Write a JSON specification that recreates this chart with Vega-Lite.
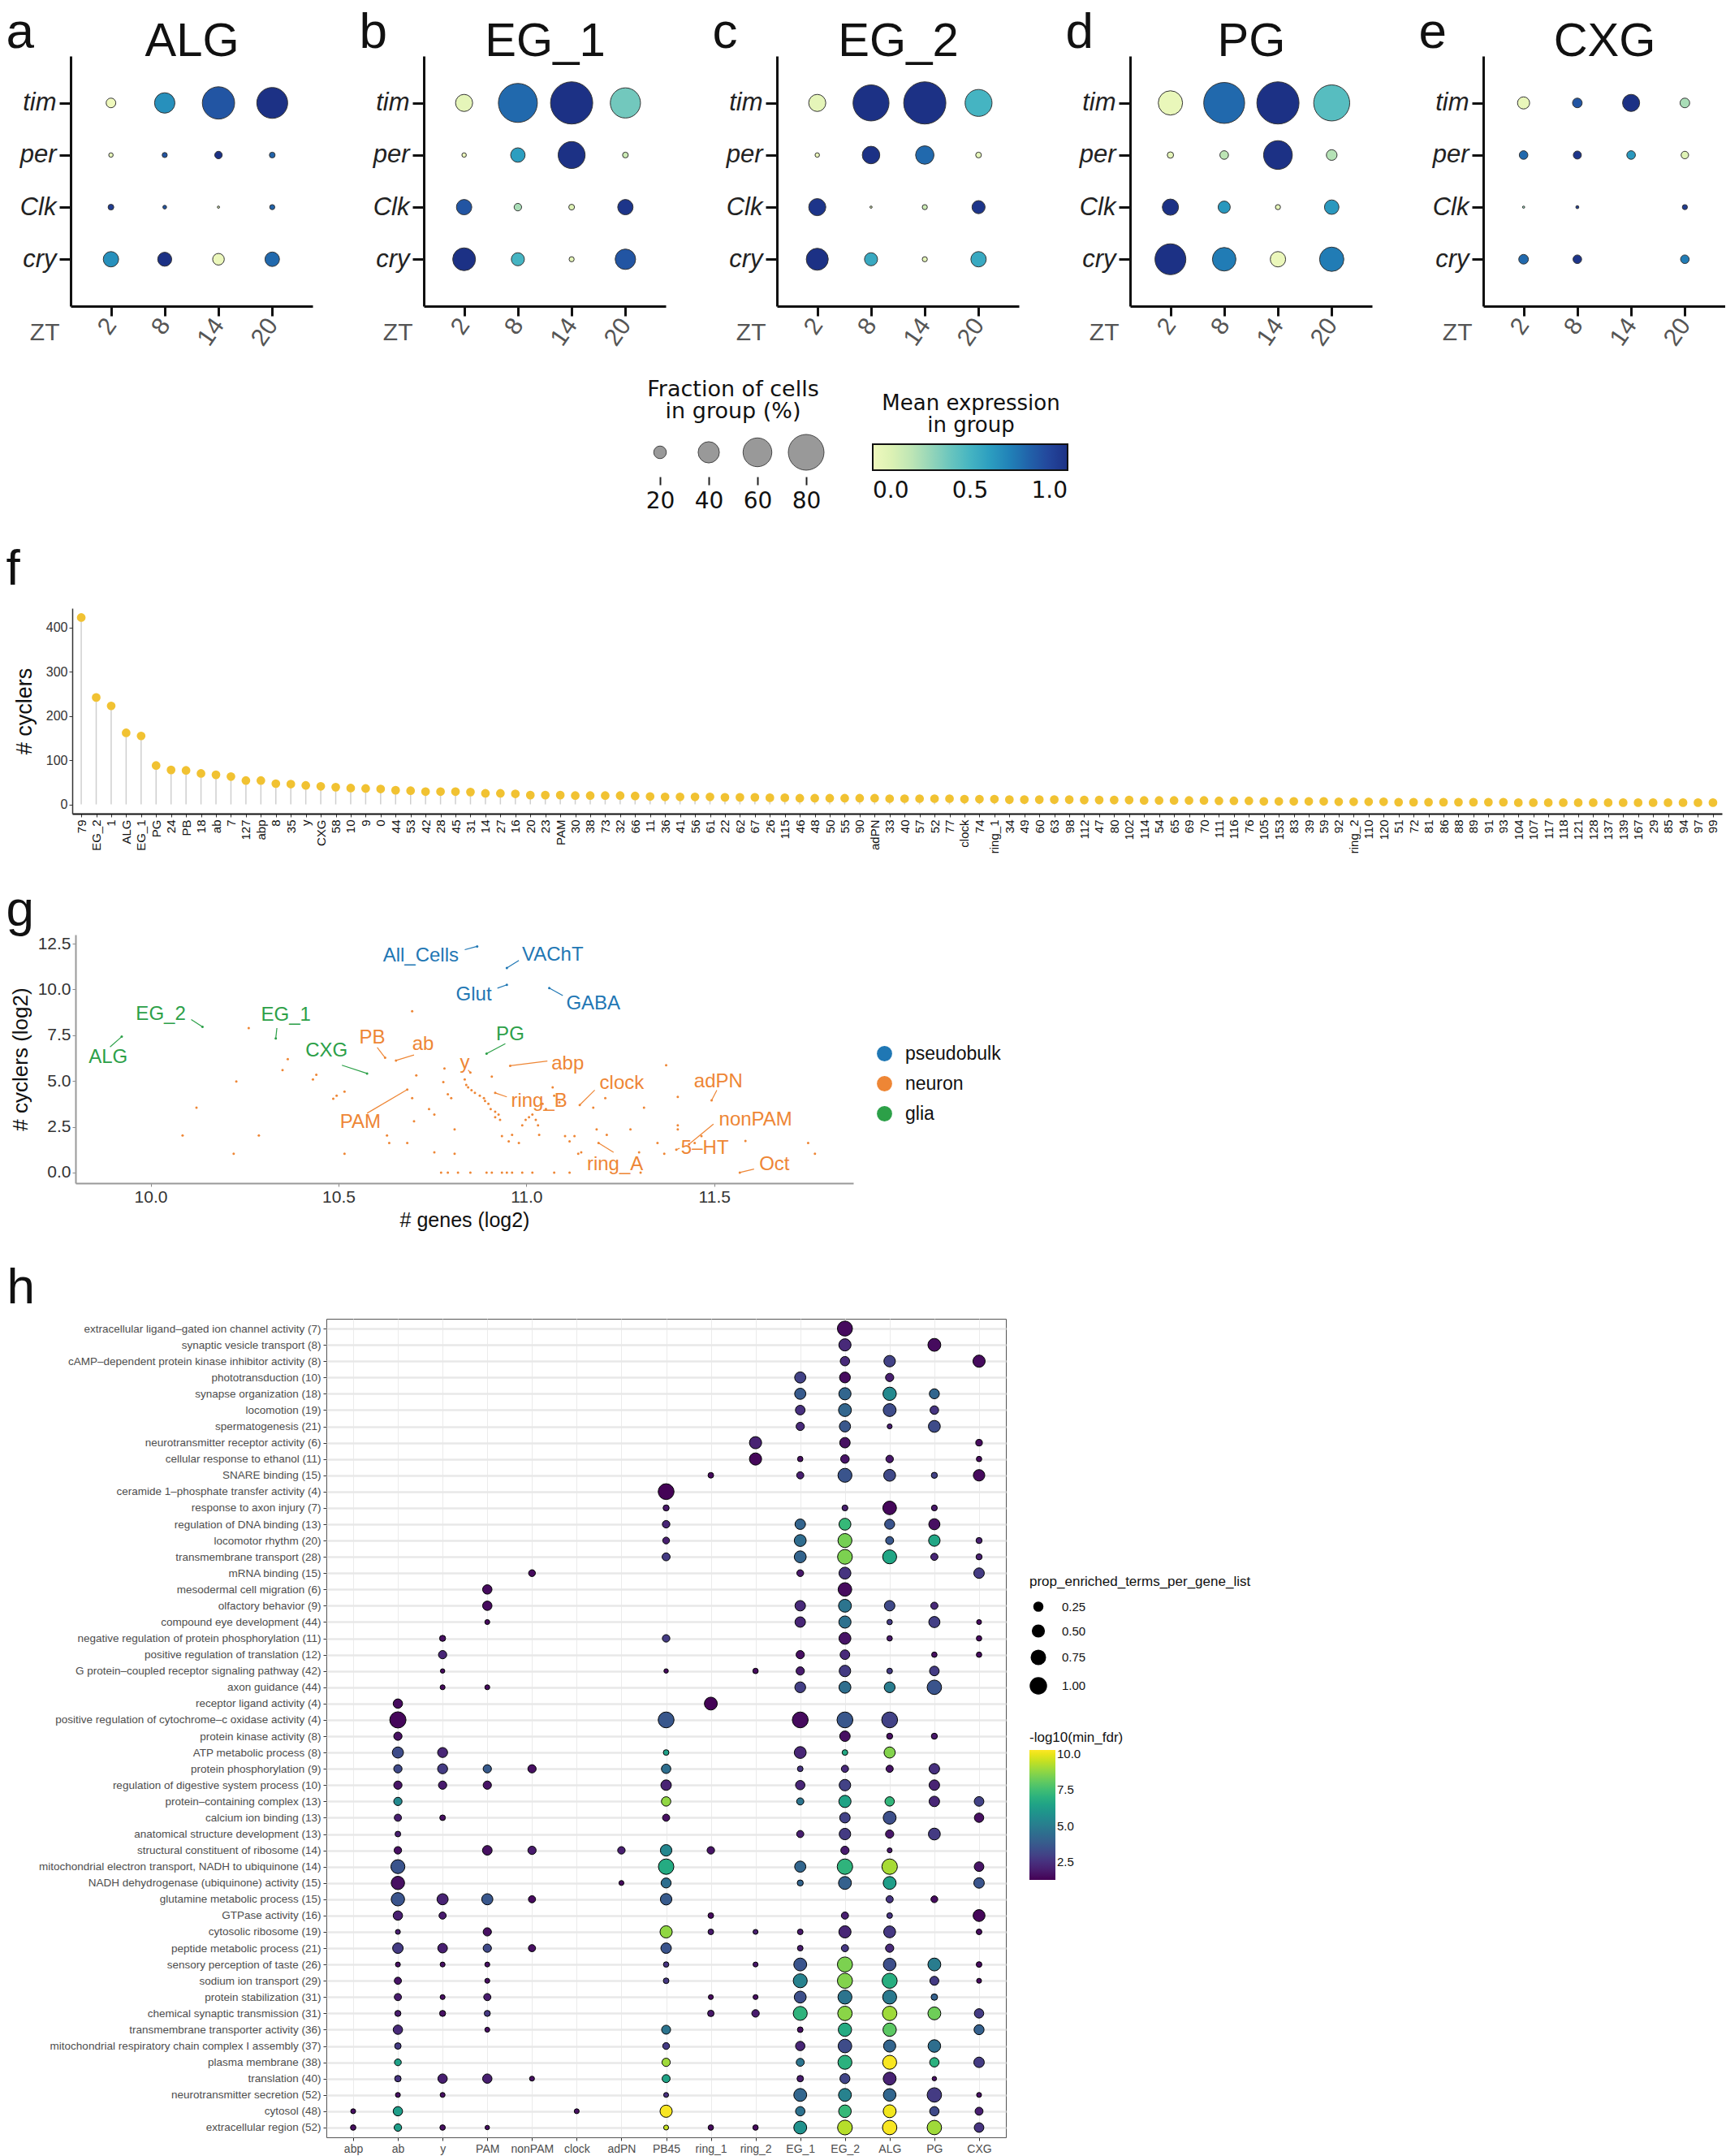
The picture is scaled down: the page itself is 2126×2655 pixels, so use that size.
{
"$schema": "https://vega.github.io/schema/vega-lite/v6.json",
"background": "white",
"padding": {"left": 0, "top": 8, "right": 0, "bottom": 0},
"config": {"view": {"stroke": null}, "font": "Liberation Sans", "title": {"fontWeight": "normal", "color": "#111"}, "axis": {"grid": false}},
"datasets": {
"dots": [
{"ct":"ALG","g":"tim","z":2,"f":14,"e":0.0},{"ct":"ALG","g":"tim","z":8,"f":38,"e":0.65},{"ct":"ALG","g":"tim","z":14,"f":70,"e":0.85},{"ct":"ALG","g":"tim","z":20,"f":66,"e":1.0},
{"ct":"ALG","g":"per","z":2,"f":5,"e":0.05},{"ct":"ALG","g":"per","z":8,"f":6,"e":0.85},{"ct":"ALG","g":"per","z":14,"f":10,"e":1.0},{"ct":"ALG","g":"per","z":20,"f":7,"e":0.8},
{"ct":"ALG","g":"Clk","z":2,"f":7,"e":0.95},{"ct":"ALG","g":"Clk","z":8,"f":4,"e":0.85},{"ct":"ALG","g":"Clk","z":14,"f":2,"e":0.1},{"ct":"ALG","g":"Clk","z":20,"f":6,"e":0.8},
{"ct":"ALG","g":"cry","z":2,"f":26,"e":0.65},{"ct":"ALG","g":"cry","z":8,"f":23,"e":1.0},{"ct":"ALG","g":"cry","z":14,"f":18,"e":0.02},{"ct":"ALG","g":"cry","z":20,"f":24,"e":0.78},
{"ct":"EG_1","g":"tim","z":2,"f":30,"e":0.05},{"ct":"EG_1","g":"tim","z":8,"f":90,"e":0.78},{"ct":"EG_1","g":"tim","z":14,"f":100,"e":1.0},{"ct":"EG_1","g":"tim","z":20,"f":64,"e":0.38},
{"ct":"EG_1","g":"per","z":2,"f":5,"e":0.02},{"ct":"EG_1","g":"per","z":8,"f":24,"e":0.6},{"ct":"EG_1","g":"per","z":14,"f":55,"e":1.0},{"ct":"EG_1","g":"per","z":20,"f":7,"e":0.15},
{"ct":"EG_1","g":"Clk","z":2,"f":26,"e":0.85},{"ct":"EG_1","g":"Clk","z":8,"f":10,"e":0.25},{"ct":"EG_1","g":"Clk","z":14,"f":7,"e":0.08},{"ct":"EG_1","g":"Clk","z":20,"f":26,"e":0.98},
{"ct":"EG_1","g":"cry","z":2,"f":44,"e":1.0},{"ct":"EG_1","g":"cry","z":8,"f":21,"e":0.5},{"ct":"EG_1","g":"cry","z":14,"f":6,"e":0.05},{"ct":"EG_1","g":"cry","z":20,"f":38,"e":0.85},
{"ct":"EG_2","g":"tim","z":2,"f":30,"e":0.05},{"ct":"EG_2","g":"tim","z":8,"f":81,"e":1.0},{"ct":"EG_2","g":"tim","z":14,"f":100,"e":1.0},{"ct":"EG_2","g":"tim","z":20,"f":55,"e":0.5},
{"ct":"EG_2","g":"per","z":2,"f":5,"e":0.02},{"ct":"EG_2","g":"per","z":8,"f":31,"e":1.0},{"ct":"EG_2","g":"per","z":14,"f":33,"e":0.78},{"ct":"EG_2","g":"per","z":20,"f":7,"e":0.05},
{"ct":"EG_2","g":"Clk","z":2,"f":30,"e":0.98},{"ct":"EG_2","g":"Clk","z":8,"f":2,"e":0.1},{"ct":"EG_2","g":"Clk","z":14,"f":6,"e":0.15},{"ct":"EG_2","g":"Clk","z":20,"f":21,"e":0.98},
{"ct":"EG_2","g":"cry","z":2,"f":42,"e":1.0},{"ct":"EG_2","g":"cry","z":8,"f":21,"e":0.55},{"ct":"EG_2","g":"cry","z":14,"f":6,"e":0.05},{"ct":"EG_2","g":"cry","z":20,"f":26,"e":0.55},
{"ct":"PG","g":"tim","z":2,"f":48,"e":0.03},{"ct":"PG","g":"tim","z":8,"f":96,"e":0.78},{"ct":"PG","g":"tim","z":14,"f":100,"e":1.0},{"ct":"PG","g":"tim","z":20,"f":81,"e":0.45},
{"ct":"PG","g":"per","z":2,"f":8,"e":0.05},{"ct":"PG","g":"per","z":8,"f":12,"e":0.2},{"ct":"PG","g":"per","z":14,"f":60,"e":1.0},{"ct":"PG","g":"per","z":20,"f":16,"e":0.22},
{"ct":"PG","g":"Clk","z":2,"f":28,"e":1.0},{"ct":"PG","g":"Clk","z":8,"f":19,"e":0.62},{"ct":"PG","g":"Clk","z":14,"f":6,"e":0.05},{"ct":"PG","g":"Clk","z":20,"f":24,"e":0.62},
{"ct":"PG","g":"cry","z":2,"f":66,"e":1.0},{"ct":"PG","g":"cry","z":8,"f":46,"e":0.72},{"ct":"PG","g":"cry","z":14,"f":26,"e":0.02},{"ct":"PG","g":"cry","z":20,"f":48,"e":0.72},
{"ct":"CXG","g":"tim","z":2,"f":19,"e":0.03},{"ct":"CXG","g":"tim","z":8,"f":14,"e":0.85},{"ct":"CXG","g":"tim","z":14,"f":30,"e":1.0},{"ct":"CXG","g":"tim","z":20,"f":14,"e":0.25},
{"ct":"CXG","g":"per","z":2,"f":12,"e":0.78},{"ct":"CXG","g":"per","z":8,"f":11,"e":0.98},{"ct":"CXG","g":"per","z":14,"f":12,"e":0.62},{"ct":"CXG","g":"per","z":20,"f":10,"e":0.08},
{"ct":"CXG","g":"Clk","z":2,"f":2,"e":0.3},{"ct":"CXG","g":"Clk","z":8,"f":3,"e":0.95},{"ct":"CXG","g":"Clk","z":20,"f":6,"e":0.95},
{"ct":"CXG","g":"cry","z":2,"f":14,"e":0.78},{"ct":"CXG","g":"cry","z":8,"f":12,"e":0.98},{"ct":"CXG","g":"cry","z":20,"f":12,"e":0.72}
],
"cyc": [
{"c":"79","n":423},{"c":"EG_2","n":242},{"c":"1","n":223},{"c":"ALG","n":162},{"c":"EG_1","n":155},{"c":"PG","n":88},{"c":"24","n":78},{"c":"PB","n":77},{"c":"18","n":70},{"c":"ab","n":67},
{"c":"7","n":63},{"c":"127","n":54},{"c":"abp","n":54},{"c":"8","n":47},{"c":"35","n":46},{"c":"y","n":43},{"c":"CXG","n":41},{"c":"58","n":39},{"c":"10","n":37},{"c":"9","n":36},
{"c":"0","n":35},{"c":"44","n":32},{"c":"53","n":31},{"c":"42","n":29},{"c":"28","n":29},{"c":"45","n":29},{"c":"31","n":28},{"c":"14","n":25},{"c":"27","n":25},{"c":"16","n":24},
{"c":"20","n":21},{"c":"23","n":21},{"c":"PAM","n":21},{"c":"30","n":20},{"c":"38","n":20},{"c":"73","n":20},{"c":"32","n":20},{"c":"66","n":19},{"c":"11","n":18},{"c":"36","n":17},
{"c":"41","n":17},{"c":"56","n":17},{"c":"61","n":17},{"c":"22","n":16},{"c":"62","n":16},{"c":"67","n":16},{"c":"26","n":15},{"c":"115","n":15},{"c":"46","n":14},{"c":"48","n":14},
{"c":"50","n":14},{"c":"55","n":14},{"c":"90","n":14},{"c":"adPN","n":14},{"c":"33","n":13},{"c":"40","n":13},{"c":"57","n":13},{"c":"52","n":13},{"c":"77","n":13},{"c":"clock","n":12},
{"c":"74","n":12},{"c":"ring_1","n":12},{"c":"34","n":11},{"c":"49","n":11},{"c":"60","n":11},{"c":"63","n":11},{"c":"98","n":11},{"c":"112","n":10},{"c":"47","n":10},{"c":"80","n":10},
{"c":"102","n":10},{"c":"114","n":9},{"c":"54","n":9},{"c":"65","n":9},{"c":"69","n":9},{"c":"70","n":9},{"c":"111","n":8},{"c":"116","n":8},{"c":"76","n":8},{"c":"105","n":7},
{"c":"153","n":7},{"c":"83","n":7},{"c":"39","n":7},{"c":"59","n":7},{"c":"92","n":6},{"c":"ring_2","n":6},{"c":"110","n":6},{"c":"120","n":6},{"c":"51","n":5},{"c":"72","n":5},
{"c":"81","n":5},{"c":"86","n":5},{"c":"88","n":5},{"c":"89","n":5},{"c":"91","n":5},{"c":"93","n":5},{"c":"104","n":4},{"c":"107","n":4},{"c":"117","n":4},{"c":"118","n":4},
{"c":"121","n":4},{"c":"128","n":4},{"c":"137","n":4},{"c":"139","n":4},{"c":"167","n":4},{"c":"29","n":4},{"c":"85","n":4},{"c":"94","n":4},{"c":"97","n":4},{"c":"99","n":4}
],
"gpts": [
{"x":10.696,"y":8.81},{"x":10.261,"y":7.89},{"x":10.228,"y":4.97},{"x":10.122,"y":3.54},{"x":10.085,"y":2.02},{"x":10.221,"y":1.03},{"x":10.288,"y":2.02},{"x":10.351,"y":5.6},{"x":10.365,"y":6.19},{"x":10.441,"y":5.34},
{"x":10.432,"y":5.09},{"x":10.495,"y":4.2},{"x":10.486,"y":4.03},{"x":10.516,"y":4.42},{"x":10.516,"y":1.03},{"x":10.629,"y":2.02},{"x":10.683,"y":1.62},{"x":10.635,"y":1.62},{"x":10.701,"y":2.8},{"x":10.696,"y":4.06},
{"x":10.707,"y":5.31},{"x":10.741,"y":3.47},{"x":10.755,"y":3.17},{"x":10.782,"y":5.68},{"x":10.779,"y":4.94},{"x":10.791,"y":4.28},{"x":10.8,"y":4.06},{"x":10.809,"y":2.36},{"x":10.809,"y":1.03},{"x":10.755,"y":1.11},
{"x":10.836,"y":5.09},{"x":10.84,"y":4.79},{"x":10.845,"y":4.65},{"x":10.854,"y":4.5},{"x":10.863,"y":4.35},{"x":10.876,"y":4.2},{"x":10.887,"y":4.06},{"x":10.89,"y":3.91},{"x":10.899,"y":3.76},{"x":10.905,"y":3.47},
{"x":10.917,"y":3.32},{"x":10.926,"y":3.17},{"x":10.908,"y":5.24},{"x":10.917,"y":3.02},{"x":10.93,"y":2.88},{"x":10.935,"y":1.99},{"x":10.953,"y":1.7},{"x":10.962,"y":2.06},{"x":10.98,"y":1.62},{"x":10.989,"y":2.58},
{"x":10.998,"y":2.88},{"x":11.007,"y":3.02},{"x":11.016,"y":3.17},{"x":11.025,"y":2.88},{"x":11.031,"y":2.58},{"x":11.034,"y":2.06},{"x":11.043,"y":3.76},{"x":11.052,"y":3.47},{"x":11.07,"y":4.65},{"x":11.074,"y":4.2},
{"x":11.088,"y":3.83},{"x":11.103,"y":1.99},{"x":11.115,"y":1.7},{"x":11.128,"y":1.99},{"x":11.138,"y":1.03},{"x":11.146,"y":1.11},{"x":11.178,"y":3.54},{"x":11.187,"y":2.36},{"x":11.21,"y":4.06},{"x":11.214,"y":2.06},
{"x":11.277,"y":2.36},{"x":11.3,"y":1.11},{"x":11.313,"y":3.54},{"x":11.349,"y":1.62},{"x":11.367,"y":1.03},{"x":11.372,"y":5.86},{"x":11.403,"y":4.13},{"x":11.403,"y":2.58},{"x":11.403,"y":2.36},{"x":11.448,"y":1.62},
{"x":11.466,"y":1.99},{"x":11.583,"y":1.73},{"x":11.75,"y":1.62},{"x":11.768,"y":1.03},
{"x":10.773,"y":0},{"x":10.791,"y":0},{"x":10.818,"y":0},{"x":10.851,"y":0},{"x":10.894,"y":0},{"x":10.908,"y":0},{"x":10.935,"y":0},{"x":10.948,"y":0},{"x":10.962,"y":0},{"x":10.989,"y":0},
{"x":11.016,"y":0},{"x":11.074,"y":0},{"x":11.115,"y":0},{"x":11.304,"y":0}
],
"glab": [
{"name":"All_Cells","t":"pseudobulk","x":10.869,"y":12.35,"sx":10.836,"sy":12.17,"lx":10.719,"ly":11.84},
{"name":"VAChT","t":"pseudobulk","x":10.948,"y":11.17,"sx":10.98,"sy":11.58,"lx":11.07,"ly":11.87},
{"name":"Glut","t":"pseudobulk","x":10.948,"y":10.25,"sx":10.923,"sy":10.07,"lx":10.86,"ly":9.69},
{"name":"GABA","t":"pseudobulk","x":11.061,"y":10.07,"sx":11.097,"sy":9.66,"lx":11.178,"ly":9.22},
{"name":"EG_2","t":"glia","x":10.138,"y":7.96,"sx":10.108,"sy":8.36,"lx":10.027,"ly":8.63},
{"name":"ALG","t":"glia","x":9.923,"y":7.42,"sx":9.892,"sy":6.86,"lx":9.887,"ly":6.3},
{"name":"EG_1","t":"glia","x":10.333,"y":7.33,"sx":10.336,"sy":7.89,"lx":10.36,"ly":8.6},
{"name":"CXG","t":"glia","x":10.576,"y":5.41,"sx":10.509,"sy":5.86,"lx":10.468,"ly":6.64},
{"name":"PG","t":"glia","x":10.894,"y":6.49,"sx":10.944,"sy":7.04,"lx":10.957,"ly":7.52},
{"name":"PB","t":"neuron","x":10.624,"y":6.27,"sx":10.603,"sy":6.83,"lx":10.59,"ly":7.37},
{"name":"ab","t":"neuron","x":10.653,"y":6.12,"sx":10.701,"sy":6.42,"lx":10.725,"ly":7.01},
{"name":"y","t":"neuron","x":10.851,"y":5.46,"sx":10.845,"sy":5.6,"lx":10.836,"ly":5.97},
{"name":"abp","t":"neuron","x":10.957,"y":5.83,"sx":11.056,"sy":6.09,"lx":11.11,"ly":5.94},
{"name":"PAM","t":"neuron","x":10.683,"y":4.53,"sx":10.576,"sy":3.24,"lx":10.558,"ly":2.73},
{"name":"ring_B","t":"neuron","x":10.917,"y":4.35,"sx":10.948,"sy":4.13,"lx":11.034,"ly":3.91},
{"name":"clock","t":"neuron","x":11.142,"y":3.69,"sx":11.182,"sy":4.5,"lx":11.254,"ly":4.87},
{"name":"adPN","t":"neuron","x":11.493,"y":3.94,"sx":11.507,"sy":4.5,"lx":11.511,"ly":4.97},
{"name":"nonPAM","t":"neuron","x":11.433,"y":1.55,"sx":11.498,"sy":2.65,"lx":11.61,"ly":2.88},
{"name":"5–HT","t":"neuron","x":11.399,"y":1.25,"sx":11.408,"sy":1.33,"lx":11.475,"ly":1.33},
{"name":"ring_A","t":"neuron","x":11.192,"y":1.62,"sx":11.232,"sy":1.11,"lx":11.236,"ly":0.44},
{"name":"Oct","t":"neuron","x":11.568,"y":0.0,"sx":11.606,"sy":0.19,"lx":11.66,"ly":0.44}
],
"terms": [
{"r":1,"term":"extracellular ligand–gated ion channel activity (7)"},{"r":2,"term":"synaptic vesicle transport (8)"},{"r":3,"term":"cAMP–dependent protein kinase inhibitor activity (8)"},{"r":4,"term":"phototransduction (10)"},{"r":5,"term":"synapse organization (18)"},
{"r":6,"term":"locomotion (19)"},{"r":7,"term":"spermatogenesis (21)"},{"r":8,"term":"neurotransmitter receptor activity (6)"},{"r":9,"term":"cellular response to ethanol (11)"},{"r":10,"term":"SNARE binding (15)"},
{"r":11,"term":"ceramide 1–phosphate transfer activity (4)"},{"r":12,"term":"response to axon injury (7)"},{"r":13,"term":"regulation of DNA binding (13)"},{"r":14,"term":"locomotor rhythm (20)"},{"r":15,"term":"transmembrane transport (28)"},
{"r":16,"term":"mRNA binding (15)"},{"r":17,"term":"mesodermal cell migration (6)"},{"r":18,"term":"olfactory behavior (9)"},{"r":19,"term":"compound eye development (44)"},{"r":20,"term":"negative regulation of protein phosphorylation (11)"},
{"r":21,"term":"positive regulation of translation (12)"},{"r":22,"term":"G protein–coupled receptor signaling pathway (42)"},{"r":23,"term":"axon guidance (44)"},{"r":24,"term":"receptor ligand activity (4)"},{"r":25,"term":"positive regulation of cytochrome–c oxidase activity (4)"},
{"r":26,"term":"protein kinase activity (8)"},{"r":27,"term":"ATP metabolic process (8)"},{"r":28,"term":"protein phosphorylation (9)"},{"r":29,"term":"regulation of digestive system process (10)"},{"r":30,"term":"protein–containing complex (13)"},
{"r":31,"term":"calcium ion binding (13)"},{"r":32,"term":"anatomical structure development (13)"},{"r":33,"term":"structural constituent of ribosome (14)"},{"r":34,"term":"mitochondrial electron transport, NADH to ubiquinone (14)"},{"r":35,"term":"NADH dehydrogenase (ubiquinone) activity (15)"},
{"r":36,"term":"glutamine metabolic process (15)"},{"r":37,"term":"GTPase activity (16)"},{"r":38,"term":"cytosolic ribosome (19)"},{"r":39,"term":"peptide metabolic process (21)"},{"r":40,"term":"sensory perception of taste (26)"},
{"r":41,"term":"sodium ion transport (29)"},{"r":42,"term":"protein stabilization (31)"},{"r":43,"term":"chemical synaptic transmission (31)"},{"r":44,"term":"transmembrane transporter activity (36)"},{"r":45,"term":"mitochondrial respiratory chain complex I assembly (37)"},
{"r":46,"term":"plasma membrane (38)"},{"r":47,"term":"translation (40)"},{"r":48,"term":"neurotransmitter secretion (52)"},{"r":49,"term":"cytosol (48)"},{"r":50,"term":"extracellular region (52)"}
],
"hdots": [
{"r":1,"g":"EG_2","p":0.85,"f":1.5},
{"r":2,"g":"EG_2","p":0.53,"f":2.3},{"r":2,"g":"PG","p":0.6,"f":1.5},
{"r":3,"g":"EG_2","p":0.28,"f":2.3},{"r":3,"g":"ALG","p":0.46,"f":3.0},{"r":3,"g":"CXG","p":0.53,"f":1.5},
{"r":4,"g":"EG_1","p":0.43,"f":3.0},{"r":4,"g":"EG_2","p":0.4,"f":1.5},{"r":4,"g":"ALG","p":0.2,"f":2.0},
{"r":5,"g":"EG_1","p":0.43,"f":3.8},{"r":5,"g":"EG_2","p":0.53,"f":4.2},{"r":5,"g":"ALG","p":0.65,"f":5.5},{"r":5,"g":"PG","p":0.33,"f":4.2},
{"r":6,"g":"EG_1","p":0.3,"f":2.5},{"r":6,"g":"EG_2","p":0.6,"f":4.2},{"r":6,"g":"ALG","p":0.6,"f":3.3},{"r":6,"g":"PG","p":0.22,"f":2.6},
{"r":7,"g":"EG_1","p":0.2,"f":2.3},{"r":7,"g":"EG_2","p":0.43,"f":3.7},{"r":7,"g":"ALG","p":0.02,"f":2.0},{"r":7,"g":"PG","p":0.5,"f":3.3},
{"r":8,"g":"ring_2","p":0.53,"f":2.1},{"r":8,"g":"EG_2","p":0.37,"f":1.6},{"r":8,"g":"CXG","p":0.1,"f":1.5},
{"r":9,"g":"ring_2","p":0.53,"f":1.4},{"r":9,"g":"EG_1","p":0.04,"f":1.6},{"r":9,"g":"EG_2","p":0.22,"f":1.7},{"r":9,"g":"ALG","p":0.15,"f":1.8},{"r":9,"g":"CXG","p":0.04,"f":1.5},
{"r":10,"g":"ring_1","p":0.05,"f":1.5},{"r":10,"g":"EG_1","p":0.13,"f":2.0},{"r":10,"g":"EG_2","p":0.72,"f":3.6},{"r":10,"g":"ALG","p":0.5,"f":3.2},{"r":10,"g":"PG","p":0.07,"f":3.0},{"r":10,"g":"CXG","p":0.46,"f":1.5},
{"r":11,"g":"PB45","p":0.95,"f":1.3},
{"r":12,"g":"PB45","p":0.07,"f":1.8},{"r":12,"g":"EG_2","p":0.06,"f":2.0},{"r":12,"g":"ALG","p":0.68,"f":1.4},{"r":12,"g":"PG","p":0.06,"f":1.8},
{"r":13,"g":"PB45","p":0.15,"f":2.2},{"r":13,"g":"EG_1","p":0.37,"f":4.1},{"r":13,"g":"EG_2","p":0.5,"f":7.3},{"r":13,"g":"ALG","p":0.33,"f":3.6},{"r":13,"g":"PG","p":0.43,"f":1.6},
{"r":14,"g":"PB45","p":0.11,"f":2.0},{"r":14,"g":"EG_1","p":0.5,"f":4.4},{"r":14,"g":"EG_2","p":0.72,"f":8.4},{"r":14,"g":"ALG","p":0.18,"f":3.7},{"r":14,"g":"PG","p":0.46,"f":6.6},{"r":14,"g":"CXG","p":0.07,"f":2.0},
{"r":15,"g":"PB45","p":0.18,"f":2.8},{"r":15,"g":"EG_1","p":0.5,"f":4.1},{"r":15,"g":"EG_2","p":0.81,"f":8.5},{"r":15,"g":"ALG","p":0.72,"f":6.6},{"r":15,"g":"PG","p":0.13,"f":2.2},{"r":15,"g":"CXG","p":0.07,"f":2.0},
{"r":16,"g":"nonPAM","p":0.11,"f":1.5},{"r":16,"g":"EG_1","p":0.11,"f":1.8},{"r":16,"g":"EG_2","p":0.5,"f":2.6},{"r":16,"g":"CXG","p":0.37,"f":2.8},
{"r":17,"g":"PAM","p":0.28,"f":1.5},{"r":17,"g":"EG_2","p":0.68,"f":1.5},
{"r":18,"g":"PAM","p":0.28,"f":1.5},{"r":18,"g":"EG_1","p":0.37,"f":2.3},{"r":18,"g":"EG_2","p":0.6,"f":4.7},{"r":18,"g":"ALG","p":0.37,"f":3.2},{"r":18,"g":"PG","p":0.13,"f":2.3},
{"r":19,"g":"PAM","p":0.02,"f":1.5},{"r":19,"g":"EG_1","p":0.37,"f":2.2},{"r":19,"g":"EG_2","p":0.53,"f":4.6},{"r":19,"g":"ALG","p":0.04,"f":2.8},{"r":19,"g":"PG","p":0.43,"f":2.9},{"r":19,"g":"CXG","p":0.02,"f":1.5},
{"r":20,"g":"y","p":0.07,"f":1.6},{"r":20,"g":"PB45","p":0.15,"f":2.8},{"r":20,"g":"EG_2","p":0.5,"f":1.7},{"r":20,"g":"ALG","p":0.04,"f":1.8},{"r":20,"g":"CXG","p":0.04,"f":1.5},
{"r":21,"g":"y","p":0.2,"f":2.2},{"r":21,"g":"EG_1","p":0.2,"f":1.6},{"r":21,"g":"EG_2","p":0.3,"f":2.3},{"r":21,"g":"PG","p":0.04,"f":1.6},{"r":21,"g":"CXG","p":0.04,"f":1.5},
{"r":22,"g":"y","p":0.0,"f":1.5},{"r":22,"g":"PB45","p":0.0,"f":1.5},{"r":22,"g":"ring_2","p":0.04,"f":1.5},{"r":22,"g":"EG_1","p":0.2,"f":1.9},{"r":22,"g":"EG_2","p":0.46,"f":2.8},{"r":22,"g":"ALG","p":0.05,"f":2.8},{"r":22,"g":"PG","p":0.3,"f":2.8},
{"r":23,"g":"y","p":0.02,"f":1.5},{"r":23,"g":"PAM","p":0.02,"f":1.5},{"r":23,"g":"EG_1","p":0.4,"f":2.9},{"r":23,"g":"EG_2","p":0.5,"f":4.5},{"r":23,"g":"ALG","p":0.4,"f":5.0},{"r":23,"g":"PG","p":0.77,"f":3.6},
{"r":24,"g":"ab","p":0.28,"f":1.5},{"r":24,"g":"ring_1","p":0.6,"f":1.3},
{"r":25,"g":"ab","p":1.0,"f":1.4},{"r":25,"g":"PB45","p":0.95,"f":3.7},{"r":25,"g":"EG_1","p":0.95,"f":1.5},{"r":25,"g":"EG_2","p":0.95,"f":3.7},{"r":25,"g":"ALG","p":0.95,"f":3.0},
{"r":26,"g":"ab","p":0.2,"f":1.6},{"r":26,"g":"EG_2","p":0.37,"f":1.6},{"r":26,"g":"ALG","p":0.07,"f":1.6},{"r":26,"g":"PG","p":0.07,"f":1.8},
{"r":27,"g":"ab","p":0.43,"f":3.3},{"r":27,"g":"y","p":0.33,"f":2.2},{"r":27,"g":"PB45","p":0.05,"f":6.4},{"r":27,"g":"EG_1","p":0.5,"f":2.2},{"r":27,"g":"EG_2","p":0.05,"f":6.7},{"r":27,"g":"ALG","p":0.43,"f":8.6},
{"r":28,"g":"ab","p":0.2,"f":3.2},{"r":28,"g":"y","p":0.33,"f":2.8},{"r":28,"g":"PAM","p":0.2,"f":3.8},{"r":28,"g":"nonPAM","p":0.2,"f":1.6},{"r":28,"g":"PB45","p":0.28,"f":4.5},{"r":28,"g":"EG_1","p":0.05,"f":2.6},{"r":28,"g":"EG_2","p":0.13,"f":2.3},{"r":28,"g":"ALG","p":0.13,"f":1.7},{"r":28,"g":"PG","p":0.37,"f":2.5},
{"r":29,"g":"ab","p":0.2,"f":1.7},{"r":29,"g":"y","p":0.2,"f":1.9},{"r":29,"g":"PAM","p":0.2,"f":1.7},{"r":29,"g":"PB45","p":0.37,"f":2.1},{"r":29,"g":"EG_1","p":0.28,"f":2.2},{"r":29,"g":"EG_2","p":0.46,"f":3.0},{"r":29,"g":"PG","p":0.37,"f":2.1},
{"r":30,"g":"ab","p":0.2,"f":5.5},{"r":30,"g":"PB45","p":0.28,"f":8.8},{"r":30,"g":"EG_1","p":0.13,"f":4.7},{"r":30,"g":"EG_2","p":0.53,"f":6.5},{"r":30,"g":"ALG","p":0.28,"f":7.2},{"r":30,"g":"PG","p":0.37,"f":2.2},{"r":30,"g":"CXG","p":0.3,"f":3.0},
{"r":31,"g":"ab","p":0.13,"f":2.0},{"r":31,"g":"y","p":0.05,"f":1.6},{"r":31,"g":"PB45","p":0.13,"f":1.6},{"r":31,"g":"EG_2","p":0.37,"f":3.0},{"r":31,"g":"ALG","p":0.6,"f":3.4},{"r":31,"g":"CXG","p":0.28,"f":1.6},
{"r":32,"g":"ab","p":0.05,"f":2.0},{"r":32,"g":"EG_1","p":0.13,"f":2.0},{"r":32,"g":"EG_2","p":0.46,"f":2.8},{"r":32,"g":"ALG","p":0.2,"f":1.8},{"r":32,"g":"PG","p":0.5,"f":2.8},
{"r":33,"g":"ab","p":0.15,"f":1.6},{"r":33,"g":"PAM","p":0.3,"f":1.6},{"r":33,"g":"nonPAM","p":0.2,"f":1.9},{"r":33,"g":"adPN","p":0.15,"f":2.0},{"r":33,"g":"PB45","p":0.46,"f":5.4},{"r":33,"g":"ring_1","p":0.15,"f":1.7},{"r":33,"g":"EG_2","p":0.2,"f":1.9},{"r":33,"g":"ALG","p":0.02,"f":1.8},
{"r":34,"g":"ab","p":0.72,"f":3.6},{"r":34,"g":"PB45","p":0.9,"f":6.8},{"r":34,"g":"EG_1","p":0.43,"f":4.2},{"r":34,"g":"EG_2","p":0.9,"f":7.1},{"r":34,"g":"ALG","p":0.9,"f":9.1},{"r":34,"g":"CXG","p":0.3,"f":1.7},
{"r":35,"g":"ab","p":0.65,"f":1.6},{"r":35,"g":"adPN","p":0.02,"f":1.5},{"r":35,"g":"PB45","p":0.33,"f":4.5},{"r":35,"g":"EG_1","p":0.07,"f":4.1},{"r":35,"g":"EG_2","p":0.6,"f":4.0},{"r":35,"g":"ALG","p":0.6,"f":6.3},{"r":35,"g":"CXG","p":0.37,"f":3.6},
{"r":36,"g":"ab","p":0.65,"f":3.6},{"r":36,"g":"y","p":0.43,"f":2.1},{"r":36,"g":"PAM","p":0.43,"f":3.7},{"r":36,"g":"nonPAM","p":0.13,"f":1.5},{"r":36,"g":"PB45","p":0.46,"f":3.8},{"r":36,"g":"ALG","p":0.13,"f":2.6},{"r":36,"g":"PG","p":0.11,"f":1.5},
{"r":37,"g":"ab","p":0.28,"f":2.0},{"r":37,"g":"y","p":0.13,"f":1.9},{"r":37,"g":"ring_1","p":0.05,"f":1.5},{"r":37,"g":"EG_2","p":0.13,"f":2.0},{"r":37,"g":"ALG","p":0.05,"f":2.6},{"r":37,"g":"CXG","p":0.5,"f":1.4},
{"r":38,"g":"ab","p":0.02,"f":2.0},{"r":38,"g":"PAM","p":0.2,"f":1.6},{"r":38,"g":"PB45","p":0.53,"f":8.8},{"r":38,"g":"ring_1","p":0.05,"f":1.9},{"r":38,"g":"ring_2","p":0.02,"f":2.0},{"r":38,"g":"EG_1","p":0.05,"f":1.8},{"r":38,"g":"EG_2","p":0.53,"f":2.2},{"r":38,"g":"ALG","p":0.5,"f":2.7},{"r":38,"g":"CXG","p":0.05,"f":1.5},
{"r":39,"g":"ab","p":0.37,"f":2.8},{"r":39,"g":"y","p":0.3,"f":2.0},{"r":39,"g":"PAM","p":0.2,"f":3.2},{"r":39,"g":"nonPAM","p":0.13,"f":1.6},{"r":39,"g":"PB45","p":0.37,"f":3.6},{"r":39,"g":"EG_1","p":0.05,"f":1.9},{"r":39,"g":"EG_2","p":0.13,"f":2.7},{"r":39,"g":"ALG","p":0.2,"f":2.3},
{"r":40,"g":"ab","p":0.02,"f":1.6},{"r":40,"g":"y","p":0.02,"f":1.6},{"r":40,"g":"PAM","p":0.02,"f":1.6},{"r":40,"g":"PB45","p":0.04,"f":2.6},{"r":40,"g":"ring_2","p":0.02,"f":1.8},{"r":40,"g":"EG_1","p":0.6,"f":3.6},{"r":40,"g":"EG_2","p":0.85,"f":8.5},{"r":40,"g":"ALG","p":0.57,"f":3.4},{"r":40,"g":"PG","p":0.6,"f":5.0},{"r":40,"g":"CXG","p":0.05,"f":1.5},
{"r":41,"g":"ab","p":0.13,"f":1.7},{"r":41,"g":"PAM","p":0.02,"f":1.6},{"r":41,"g":"PB45","p":0.05,"f":2.7},{"r":41,"g":"EG_1","p":0.72,"f":5.2},{"r":41,"g":"EG_2","p":0.85,"f":8.6},{"r":41,"g":"ALG","p":0.85,"f":6.9},{"r":41,"g":"PG","p":0.25,"f":2.8},{"r":41,"g":"CXG","p":0.02,"f":1.5},
{"r":42,"g":"ab","p":0.13,"f":1.9},{"r":42,"g":"y","p":0.02,"f":1.6},{"r":42,"g":"PAM","p":0.13,"f":1.9},{"r":42,"g":"ring_1","p":0.02,"f":1.5},{"r":42,"g":"ring_2","p":0.02,"f":1.6},{"r":42,"g":"EG_1","p":0.5,"f":3.4},{"r":42,"g":"EG_2","p":0.72,"f":4.7},{"r":42,"g":"ALG","p":0.72,"f":4.9},{"r":42,"g":"PG","p":0.09,"f":4.0},
{"r":43,"g":"ab","p":0.07,"f":1.9},{"r":43,"g":"y","p":0.07,"f":1.6},{"r":43,"g":"PAM","p":0.07,"f":2.7},{"r":43,"g":"ring_1","p":0.09,"f":1.8},{"r":43,"g":"ring_2","p":0.15,"f":1.9},{"r":43,"g":"EG_1","p":0.72,"f":7.1},{"r":43,"g":"EG_2","p":0.77,"f":8.7},{"r":43,"g":"ALG","p":0.77,"f":9.0},{"r":43,"g":"PG","p":0.6,"f":8.3},{"r":43,"g":"CXG","p":0.28,"f":2.8},
{"r":44,"g":"ab","p":0.28,"f":2.3},{"r":44,"g":"PAM","p":0.02,"f":1.6},{"r":44,"g":"PB45","p":0.25,"f":4.7},{"r":44,"g":"EG_1","p":0.05,"f":1.6},{"r":44,"g":"EG_2","p":0.65,"f":6.8},{"r":44,"g":"ALG","p":0.65,"f":8.0},{"r":44,"g":"CXG","p":0.33,"f":4.0},
{"r":45,"g":"ab","p":0.09,"f":2.8},{"r":45,"g":"PB45","p":0.11,"f":2.8},{"r":45,"g":"EG_1","p":0.28,"f":2.2},{"r":45,"g":"EG_2","p":0.68,"f":3.3},{"r":45,"g":"ALG","p":0.53,"f":4.1},{"r":45,"g":"PG","p":0.57,"f":4.5},
{"r":46,"g":"ab","p":0.11,"f":6.4},{"r":46,"g":"PB45","p":0.2,"f":9.0},{"r":46,"g":"EG_1","p":0.18,"f":4.7},{"r":46,"g":"EG_2","p":0.72,"f":7.0},{"r":46,"g":"ALG","p":0.72,"f":10.2},{"r":46,"g":"PG","p":0.28,"f":7.0},{"r":46,"g":"CXG","p":0.37,"f":2.8},
{"r":47,"g":"ab","p":0.09,"f":2.6},{"r":47,"g":"y","p":0.28,"f":2.0},{"r":47,"g":"PAM","p":0.28,"f":2.0},{"r":47,"g":"nonPAM","p":0.02,"f":1.6},{"r":47,"g":"PB45","p":0.18,"f":6.5},{"r":47,"g":"EG_1","p":0.09,"f":1.9},{"r":47,"g":"EG_2","p":0.33,"f":3.1},{"r":47,"g":"ALG","p":0.6,"f":2.1},{"r":47,"g":"PG","p":0.0,"f":1.6},
{"r":48,"g":"ab","p":0.02,"f":1.6},{"r":48,"g":"y","p":0.02,"f":1.6},{"r":48,"g":"PB45","p":0.02,"f":2.5},{"r":48,"g":"EG_1","p":0.6,"f":4.2},{"r":48,"g":"EG_2","p":0.6,"f":5.2},{"r":48,"g":"ALG","p":0.57,"f":4.2},{"r":48,"g":"PG","p":0.77,"f":2.8},{"r":48,"g":"CXG","p":0.02,"f":1.6},
{"r":49,"g":"abp","p":0.02,"f":1.6},{"r":49,"g":"ab","p":0.28,"f":6.3},{"r":49,"g":"clock","p":0.02,"f":1.6},{"r":49,"g":"PB45","p":0.53,"f":10.2},{"r":49,"g":"EG_1","p":0.28,"f":4.6},{"r":49,"g":"EG_2","p":0.57,"f":7.3},{"r":49,"g":"ALG","p":0.6,"f":10.1},{"r":49,"g":"PG","p":0.28,"f":3.2},{"r":49,"g":"CXG","p":0.18,"f":2.0},
{"r":50,"g":"abp","p":0.04,"f":1.6},{"r":50,"g":"ab","p":0.15,"f":6.3},{"r":50,"g":"y","p":0.04,"f":1.6},{"r":50,"g":"PAM","p":0.0,"f":1.6},{"r":50,"g":"PB45","p":0.02,"f":9.5},{"r":50,"g":"ring_1","p":0.04,"f":1.5},{"r":50,"g":"ring_2","p":0.04,"f":1.5},{"r":50,"g":"EG_1","p":0.6,"f":5.8},{"r":50,"g":"EG_2","p":0.81,"f":9.3},{"r":50,"g":"ALG","p":0.77,"f":10.2},{"r":50,"g":"PG","p":0.77,"f":9.0},{"r":50,"g":"CXG","p":0.3,"f":2.6}
]
},
"vconcat": [
{"hconcat": [
 {"width": 1, "height": 1, "data": {"values": [{"d": 0}]}, "mark": {"type": "point", "opacity": 0}},
 {
 "vconcat": [
  {"hconcat": [
   {"width": 298, "height": 308, "data": {"name": "dots"}, "transform": [{"filter": "datum.ct === 'ALG'"}],
    "layer": [
     {"mark": {"type": "circle", "opacity": 1, "stroke": "#333", "strokeWidth": 1},
      "encoding": {
       "x": {"field": "z", "type": "ordinal", "scale": {"type": "point", "domain": [2, 8, 14, 20], "padding": 0.75}, "axis": {"orient": "bottom", "title": "ZT", "titleX": -14, "titleY": 32, "titleAlign": "right", "titleAngle": 0, "titleBaseline": "middle", "titleFontSize": 30, "titleColor": "#555", "titleFontWeight": "normal", "labelAngle": -55, "labelFontSize": 30, "labelColor": "#555", "labelPadding": 6, "tickSize": 12, "tickWidth": 3, "tickColor": "#111", "domainColor": "#111", "domainWidth": 3}},
       "y": {"field": "g", "type": "nominal", "scale": {"type": "point", "domain": ["tim", "per", "Clk", "cry"], "padding": 0.9}, "axis": {"title": "a", "titleAngle": 0, "titleX": -80, "titleY": -11, "titleAlign": "left", "titleBaseline": "alphabetic", "titleFontSize": 62, "titleFontWeight": "normal", "titleColor": "#111", "labelFontSize": 31, "labelFontStyle": "italic", "labelColor": "#222", "labelPadding": 4, "tickSize": 14, "tickWidth": 3, "tickColor": "#111", "domainColor": "#111", "domainWidth": 3}},
       "size": {"field": "f", "type": "quantitative", "scale": {"type": "pow", "exponent": 1.5, "domain": [0, 100], "range": [0, 2700]}, "legend": null},
       "color": {"field": "e", "type": "quantitative", "scale": {"scheme": "yellowgreenblue", "domain": [0, 1]}, "legend": null}}},
     {"mark": {"type": "circle", "opacity": 0},
      "encoding": {"x": {"field": "z", "type": "ordinal", "axis": {"orient": "top", "title": "ALG", "labels": false, "ticks": false, "domain": false, "titleX": 149, "titleY": -1, "titleAlign": "center", "titleAngle": 0, "titleBaseline": "alphabetic", "titleFontSize": 58, "titleFontWeight": "normal", "titleColor": "#111"}}}}
    ],
    "resolve": {"axis": {"x": "independent"}}},
   {"width": 298, "height": 308, "data": {"name": "dots"}, "transform": [{"filter": "datum.ct === 'EG_1'"}],
    "layer": [
     {"mark": {"type": "circle", "opacity": 1, "stroke": "#333", "strokeWidth": 1},
      "encoding": {
       "x": {"field": "z", "type": "ordinal", "scale": {"type": "point", "domain": [2, 8, 14, 20], "padding": 0.75}, "axis": {"orient": "bottom", "title": "ZT", "titleX": -14, "titleY": 32, "titleAlign": "right", "titleAngle": 0, "titleBaseline": "middle", "titleFontSize": 30, "titleColor": "#555", "titleFontWeight": "normal", "labelAngle": -55, "labelFontSize": 30, "labelColor": "#555", "labelPadding": 6, "tickSize": 12, "tickWidth": 3, "tickColor": "#111", "domainColor": "#111", "domainWidth": 3}},
       "y": {"field": "g", "type": "nominal", "scale": {"type": "point", "domain": ["tim", "per", "Clk", "cry"], "padding": 0.9}, "axis": {"title": "b", "titleAngle": 0, "titleX": -80, "titleY": -11, "titleAlign": "left", "titleBaseline": "alphabetic", "titleFontSize": 62, "titleFontWeight": "normal", "titleColor": "#111", "labelFontSize": 31, "labelFontStyle": "italic", "labelColor": "#222", "labelPadding": 4, "tickSize": 14, "tickWidth": 3, "tickColor": "#111", "domainColor": "#111", "domainWidth": 3}},
       "size": {"field": "f", "type": "quantitative", "scale": {"type": "pow", "exponent": 1.5, "domain": [0, 100], "range": [0, 2700]}, "legend": null},
       "color": {"field": "e", "type": "quantitative", "scale": {"scheme": "yellowgreenblue", "domain": [0, 1]}, "legend": null}}},
     {"mark": {"type": "circle", "opacity": 0},
      "encoding": {"x": {"field": "z", "type": "ordinal", "axis": {"orient": "top", "title": "EG_1", "labels": false, "ticks": false, "domain": false, "titleX": 149, "titleY": -1, "titleAlign": "center", "titleAngle": 0, "titleBaseline": "alphabetic", "titleFontSize": 58, "titleFontWeight": "normal", "titleColor": "#111"}}}}
    ],
    "resolve": {"axis": {"x": "independent"}}},
   {"width": 298, "height": 308, "data": {"name": "dots"}, "transform": [{"filter": "datum.ct === 'EG_2'"}],
    "layer": [
     {"mark": {"type": "circle", "opacity": 1, "stroke": "#333", "strokeWidth": 1},
      "encoding": {
       "x": {"field": "z", "type": "ordinal", "scale": {"type": "point", "domain": [2, 8, 14, 20], "padding": 0.75}, "axis": {"orient": "bottom", "title": "ZT", "titleX": -14, "titleY": 32, "titleAlign": "right", "titleAngle": 0, "titleBaseline": "middle", "titleFontSize": 30, "titleColor": "#555", "titleFontWeight": "normal", "labelAngle": -55, "labelFontSize": 30, "labelColor": "#555", "labelPadding": 6, "tickSize": 12, "tickWidth": 3, "tickColor": "#111", "domainColor": "#111", "domainWidth": 3}},
       "y": {"field": "g", "type": "nominal", "scale": {"type": "point", "domain": ["tim", "per", "Clk", "cry"], "padding": 0.9}, "axis": {"title": "c", "titleAngle": 0, "titleX": -80, "titleY": -11, "titleAlign": "left", "titleBaseline": "alphabetic", "titleFontSize": 62, "titleFontWeight": "normal", "titleColor": "#111", "labelFontSize": 31, "labelFontStyle": "italic", "labelColor": "#222", "labelPadding": 4, "tickSize": 14, "tickWidth": 3, "tickColor": "#111", "domainColor": "#111", "domainWidth": 3}},
       "size": {"field": "f", "type": "quantitative", "scale": {"type": "pow", "exponent": 1.5, "domain": [0, 100], "range": [0, 2700]}, "legend": null},
       "color": {"field": "e", "type": "quantitative", "scale": {"scheme": "yellowgreenblue", "domain": [0, 1]}, "legend": null}}},
     {"mark": {"type": "circle", "opacity": 0},
      "encoding": {"x": {"field": "z", "type": "ordinal", "axis": {"orient": "top", "title": "EG_2", "labels": false, "ticks": false, "domain": false, "titleX": 149, "titleY": -1, "titleAlign": "center", "titleAngle": 0, "titleBaseline": "alphabetic", "titleFontSize": 58, "titleFontWeight": "normal", "titleColor": "#111"}}}}
    ],
    "resolve": {"axis": {"x": "independent"}}},
   {"width": 298, "height": 308, "data": {"name": "dots"}, "transform": [{"filter": "datum.ct === 'PG'"}],
    "layer": [
     {"mark": {"type": "circle", "opacity": 1, "stroke": "#333", "strokeWidth": 1},
      "encoding": {
       "x": {"field": "z", "type": "ordinal", "scale": {"type": "point", "domain": [2, 8, 14, 20], "padding": 0.75}, "axis": {"orient": "bottom", "title": "ZT", "titleX": -14, "titleY": 32, "titleAlign": "right", "titleAngle": 0, "titleBaseline": "middle", "titleFontSize": 30, "titleColor": "#555", "titleFontWeight": "normal", "labelAngle": -55, "labelFontSize": 30, "labelColor": "#555", "labelPadding": 6, "tickSize": 12, "tickWidth": 3, "tickColor": "#111", "domainColor": "#111", "domainWidth": 3}},
       "y": {"field": "g", "type": "nominal", "scale": {"type": "point", "domain": ["tim", "per", "Clk", "cry"], "padding": 0.9}, "axis": {"title": "d", "titleAngle": 0, "titleX": -80, "titleY": -11, "titleAlign": "left", "titleBaseline": "alphabetic", "titleFontSize": 62, "titleFontWeight": "normal", "titleColor": "#111", "labelFontSize": 31, "labelFontStyle": "italic", "labelColor": "#222", "labelPadding": 4, "tickSize": 14, "tickWidth": 3, "tickColor": "#111", "domainColor": "#111", "domainWidth": 3}},
       "size": {"field": "f", "type": "quantitative", "scale": {"type": "pow", "exponent": 1.5, "domain": [0, 100], "range": [0, 2700]}, "legend": null},
       "color": {"field": "e", "type": "quantitative", "scale": {"scheme": "yellowgreenblue", "domain": [0, 1]}, "legend": null}}},
     {"mark": {"type": "circle", "opacity": 0},
      "encoding": {"x": {"field": "z", "type": "ordinal", "axis": {"orient": "top", "title": "PG", "labels": false, "ticks": false, "domain": false, "titleX": 149, "titleY": -1, "titleAlign": "center", "titleAngle": 0, "titleBaseline": "alphabetic", "titleFontSize": 58, "titleFontWeight": "normal", "titleColor": "#111"}}}}
    ],
    "resolve": {"axis": {"x": "independent"}}},
   {"width": 298, "height": 308, "data": {"name": "dots"}, "transform": [{"filter": "datum.ct === 'CXG'"}],
    "layer": [
     {"mark": {"type": "circle", "opacity": 1, "stroke": "#333", "strokeWidth": 1},
      "encoding": {
       "x": {"field": "z", "type": "ordinal", "scale": {"type": "point", "domain": [2, 8, 14, 20], "padding": 0.75}, "axis": {"orient": "bottom", "title": "ZT", "titleX": -14, "titleY": 32, "titleAlign": "right", "titleAngle": 0, "titleBaseline": "middle", "titleFontSize": 30, "titleColor": "#555", "titleFontWeight": "normal", "labelAngle": -55, "labelFontSize": 30, "labelColor": "#555", "labelPadding": 6, "tickSize": 12, "tickWidth": 3, "tickColor": "#111", "domainColor": "#111", "domainWidth": 3}},
       "y": {"field": "g", "type": "nominal", "scale": {"type": "point", "domain": ["tim", "per", "Clk", "cry"], "padding": 0.9}, "axis": {"title": "e", "titleAngle": 0, "titleX": -80, "titleY": -11, "titleAlign": "left", "titleBaseline": "alphabetic", "titleFontSize": 62, "titleFontWeight": "normal", "titleColor": "#111", "labelFontSize": 31, "labelFontStyle": "italic", "labelColor": "#222", "labelPadding": 4, "tickSize": 14, "tickWidth": 3, "tickColor": "#111", "domainColor": "#111", "domainWidth": 3}},
       "size": {"field": "f", "type": "quantitative", "scale": {"type": "pow", "exponent": 1.5, "domain": [0, 100], "range": [0, 2700]}, "legend": null},
       "color": {"field": "e", "type": "quantitative", "scale": {"scheme": "yellowgreenblue", "domain": [0, 1]}, "legend": null}}},
     {"mark": {"type": "circle", "opacity": 0},
      "encoding": {"x": {"field": "z", "type": "ordinal", "axis": {"orient": "top", "title": "CXG", "labels": false, "ticks": false, "domain": false, "titleX": 149, "titleY": -1, "titleAlign": "center", "titleAngle": 0, "titleBaseline": "alphabetic", "titleFontSize": 58, "titleFontWeight": "normal", "titleColor": "#111"}}}}
    ],
    "resolve": {"axis": {"x": "independent"}}}
  ], "spacing": 57},
  {"hconcat": [
   {"width": 696, "height": 1, "data": {"values": [{"d": 0}]}, "mark": {"type": "point", "opacity": 0}},
   {"width": 240, "height": 48,
    "title": {"text": ["Fraction of cells", "in group (%)"], "fontSize": 27, "font": "DejaVu Sans", "offset": -37, "lineHeight": 27},
    "layer": [
     {"data": {"values": [{"pct": 20}, {"pct": 40}, {"pct": 60}, {"pct": 80}]},
      "mark": {"type": "circle", "color": "#999999", "opacity": 1, "stroke": "#444", "strokeWidth": 1},
      "encoding": {
       "x": {"field": "pct", "type": "ordinal", "scale": {"type": "point", "padding": 0.5}, "axis": {"title": null, "domain": false, "labelAngle": 0, "labelFontSize": 28, "labelFont": "DejaVu Sans", "labelColor": "#111", "tickSize": 10, "tickWidth": 2, "tickColor": "#222", "offset": 6, "labelPadding": 6}},
       "size": {"field": "pct", "type": "quantitative", "scale": {"type": "pow", "exponent": 1.5, "domain": [0, 100], "range": [0, 2700]}, "legend": null}}},
     {"data": {"values": [{"m": 0}, {"m": 1}]},
      "mark": {"type": "point", "size": 0, "filled": true, "opacity": 1},
      "encoding": {"color": {"field": "m", "type": "quantitative", "scale": {"scheme": "yellowgreenblue", "domain": [0, 1]},
       "legend": {"orient": "none", "legendX": 292, "legendY": -49, "direction": "horizontal", "title": ["Mean expression", "in group"], "titleFontSize": 26, "titleFont": "DejaVu Sans", "titleFontWeight": "normal", "titleColor": "#111", "titleAnchor": "middle", "titleAlign": "center", "titleLineHeight": 27, "titlePadding": 10, "titleLimit": 500, "gradientLength": 240, "gradientThickness": 32, "gradientOpacity": 1, "gradientStrokeColor": "#111", "gradientStrokeWidth": 2, "labelFontSize": 28, "labelFont": "DejaVu Sans", "labelColor": "#111", "labelOffset": 12, "values": [0, 0.5, 1], "format": ".1f", "labelAlign": "center"}}}}
    ]}
  ], "spacing": 0, "resolve": {"scale": {"color": "independent", "size": "independent"}}}
 ],
 "spacing": 35,
 "resolve": {"scale": {"color": "independent", "size": "independent"}}
 }
], "spacing": 0, "resolve": {"scale": {"color": "independent", "size": "independent"}}},
{"hconcat": [
 {"width": 1, "height": 1, "data": {"values": [{"d": 0}]}, "mark": {"type": "point", "opacity": 0}},
 {
 "width": 2032, "height": 253,
 "data": {"name": "cyc"},
 "encoding": {"x": {"field": "c", "type": "nominal", "sort": null, "scale": {"type": "point", "padding": 0.6}, "axis": {"title": "f", "titleX": -82, "titleY": -283, "titleAlign": "left", "titleAngle": 0, "titleBaseline": "alphabetic", "titleFontSize": 62, "titleFontWeight": "normal", "titleColor": "#111", "labelAngle": -90, "labelFontSize": 15, "labelColor": "#111", "labelPadding": 3, "tickSize": 4, "tickColor": "#333", "domainColor": "#111", "domainWidth": 2, "labelOverlap": false}}},
 "layer": [
  {"mark": {"type": "rule", "color": "#cfcfcf", "strokeWidth": 1.5},
   "encoding": {"y": {"field": "n", "type": "quantitative", "scale": {"domain": [-21, 444], "nice": false, "zero": false}, "axis": {"title": "# cyclers", "titleFontSize": 27, "titleFontWeight": "normal", "titleColor": "#111", "titlePadding": 12, "values": [0, 100, 200, 300, 400], "labelFontSize": 16, "labelColor": "#333", "tickSize": 4, "tickColor": "#333", "domainColor": "#333", "domainWidth": 1.5}}, "y2": {"datum": 0}}},
  {"mark": {"type": "circle", "color": "#F1C232", "opacity": 1, "size": 115},
   "encoding": {"y": {"field": "n", "type": "quantitative"}}}
 ]
 }
], "spacing": 0},
{"hconcat": [
 {"width": 1, "height": 1, "data": {"values": [{"d": 0}]}, "mark": {"type": "point", "opacity": 0}},
 {
 "width": 958, "height": 306,
 "layer": [
  {"data": {"name": "gpts"}, "mark": {"type": "circle", "size": 9, "opacity": 1, "color": "#ee8635"},
   "encoding": {
    "x": {"field": "x", "type": "quantitative", "scale": {"domain": [9.8, 11.87], "nice": false, "zero": false}, "axis": {"orient": "bottom", "title": "# genes (log2)", "values": [10, 10.5, 11, 11.5], "format": ".1f", "labelFontSize": 21, "labelColor": "#333", "titleFontSize": 25, "titleFontWeight": "normal", "titleColor": "#111", "tickColor": "#888", "tickSize": 4, "domainColor": "#999", "domainWidth": 2, "titlePadding": 6}},
    "y": {"field": "y", "type": "quantitative", "scale": {"domain": [-0.58, 12.99], "nice": false, "zero": false}, "axis": {"title": "# cyclers (log2)", "values": [0, 2.5, 5, 7.5, 10, 12.5], "format": ".1f", "labelFontSize": 21, "labelColor": "#333", "titleFontSize": 26, "titleFontWeight": "normal", "titleColor": "#111", "tickColor": "#888", "tickSize": 4, "domainColor": "#999", "domainWidth": 2, "titlePadding": 8}}}},
  {"data": {"name": "glab"}, "mark": {"type": "rule", "strokeWidth": 1.2},
   "encoding": {"x": {"field": "x", "type": "quantitative", "axis": null}, "y": {"field": "y", "type": "quantitative"}, "x2": {"field": "sx"}, "y2": {"field": "sy"}, "color": {"field": "t", "type": "nominal"}}},
  {"data": {"name": "glab"}, "mark": {"type": "circle", "size": 9, "opacity": 1},
   "encoding": {"x": {"field": "x", "type": "quantitative", "axis": null}, "y": {"field": "y", "type": "quantitative"},
    "color": {"field": "t", "type": "nominal", "scale": {"domain": ["pseudobulk", "neuron", "glia"], "range": ["#1f77b4", "#ee8635", "#2ca048"]},
     "legend": {"orient": "none", "legendX": 985, "legendY": 135, "title": null, "symbolType": "circle", "symbolSize": 300, "symbolOpacity": 1, "labelFontSize": 23, "labelColor": "#111", "rowPadding": 12, "labelOffset": 14}}}},
  {"data": {"name": "glab"}, "mark": {"type": "text", "fontSize": 24},
   "encoding": {"x": {"field": "lx", "type": "quantitative", "axis": null}, "y": {"field": "ly", "type": "quantitative"}, "text": {"field": "name"}, "color": {"field": "t", "type": "nominal"}}},
  {"data": {"name": "glab"}, "mark": {"type": "circle", "opacity": 0},
   "encoding": {"x": {"field": "x", "type": "quantitative", "axis": {"orient": "top", "title": "g", "labels": false, "ticks": false, "domain": false, "grid": false, "titleX": -86, "titleY": -12, "titleAlign": "left", "titleAngle": 0, "titleBaseline": "alphabetic", "titleFontSize": 62, "titleFontWeight": "normal", "titleColor": "#111"}}, "y": {"field": "y", "type": "quantitative"}}}
 ],
 "resolve": {"axis": {"x": "independent"}}
 }
], "spacing": 0, "resolve": {"scale": {"color": "independent", "size": "independent"}}},
{"hconcat": [
 {"width": 1, "height": 1, "data": {"values": [{"d": 0}]}, "mark": {"type": "point", "opacity": 0}},
 {
 "width": 837, "height": 1008,
 "view": {"stroke": "#555", "strokeWidth": 1},
 "data": {"name": "hdots"},
 "transform": [{"lookup": "r", "from": {"data": {"name": "terms"}, "key": "r", "fields": ["term"]}}],
 "mark": {"type": "circle", "opacity": 1, "stroke": "#000", "strokeWidth": 1},
 "encoding": {
  "x": {"field": "g", "type": "nominal", "scale": {"type": "point", "domain": ["abp", "ab", "y", "PAM", "nonPAM", "clock", "adPN", "PB45", "ring_1", "ring_2", "EG_1", "EG_2", "ALG", "PG", "CXG"], "padding": 0.6}, "axis": {"title": null, "labelAngle": 0, "labelFontSize": 14, "labelColor": "#4d4d4d", "tickSize": 4, "tickColor": "#333", "domain": false, "grid": true, "gridColor": "#ebebeb", "gridWidth": 1, "labelPadding": 3}},
  "y": {"field": "term", "type": "nominal", "sort": {"field": "r", "op": "min", "order": "ascending"}, "scale": {"type": "point", "padding": 0.6}, "axis": {"title": "h", "titleAngle": 0, "titleX": -394, "titleY": -20, "titleAlign": "left", "titleBaseline": "alphabetic", "titleFontSize": 62, "titleFontWeight": "normal", "titleColor": "#111", "labelFontSize": 13.5, "labelColor": "#4d4d4d", "tickSize": 4, "tickColor": "#333", "domain": false, "grid": true, "gridColor": "#e8e8e8", "gridWidth": 2.5, "labelPadding": 3, "labelLimit": 0}},
  "size": {"field": "p", "type": "quantitative", "scale": {"domain": [0, 1], "range": [30, 400]},
   "legend": {"orient": "none", "legendX": 866, "legendY": 316, "title": "prop_enriched_terms_per_gene_list", "titleLimit": 500, "titleFontSize": 17, "titleFontWeight": "normal", "titleColor": "#111", "values": [0.25, 0.5, 0.75, 1], "format": ".2f", "labelFontSize": 15, "labelColor": "#111", "symbolFillColor": "#000", "symbolStrokeColor": "#000", "symbolType": "circle", "rowPadding": 10, "labelOffset": 18, "titlePadding": 14}},
  "color": {"field": "f", "type": "quantitative", "scale": {"scheme": "viridis", "domain": [1.26, 10.28]},
   "legend": {"orient": "none", "legendX": 866, "legendY": 508, "title": "-log10(min_fdr)", "titleFontSize": 17, "titleFontWeight": "normal", "titleColor": "#111", "gradientLength": 160, "gradientThickness": 32, "values": [2.5, 5, 7.5, 10], "format": ".1f", "labelFontSize": 15, "labelColor": "#111", "titlePadding": 6}}
 }
 }
], "spacing": 0, "resolve": {"scale": {"color": "independent", "size": "independent"}}}
],
"spacing": 38,
"resolve": {"scale": {"color": "independent", "size": "independent"}}
}
